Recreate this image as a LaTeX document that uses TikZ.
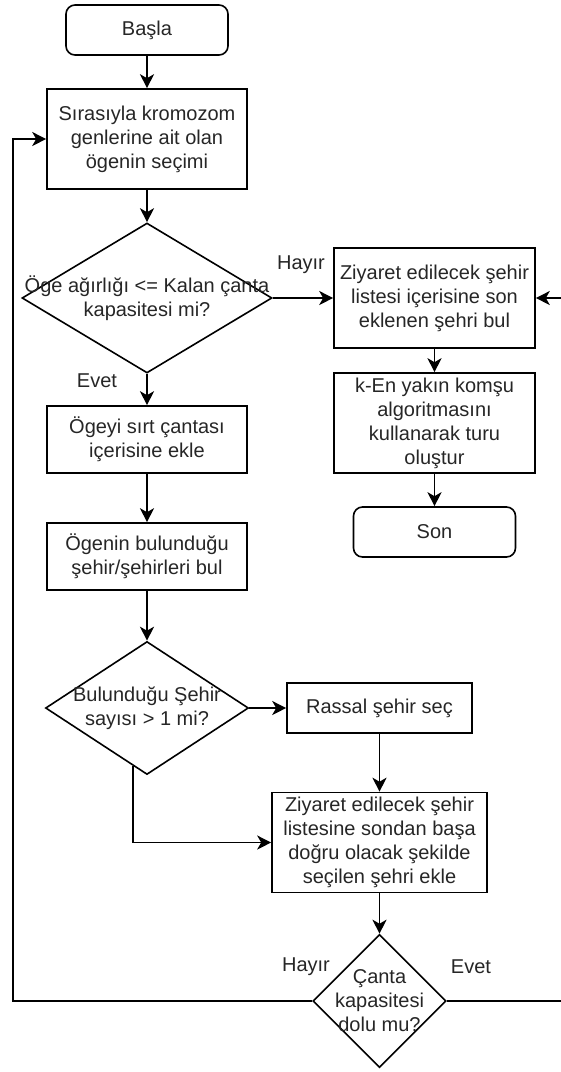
\documentclass[tikz,border=0pt]{standalone}
\usepackage{fontspec}
\setmainfont{Liberation Sans}
\usetikzlibrary{shapes.geometric,arrows.meta,calc}
\newcommand\fsz{\fontsize{20}{24}\selectfont}
\begin{document}
\begin{tikzpicture}[x=1pt,y=-1pt,
  base/.style={draw=black, line width=1.6pt, font=\fsz, align=center, inner sep=0pt, text=black!85},
  proc/.style={base, rectangle},
  term/.style={base, rectangle, rounded corners=9pt},
  dia/.style={base, diamond},
  dtext/.style={font=\fsz, align=center, inner sep=0pt, text=black!85},
  lbl/.style={font=\fsz, inner sep=0pt, text=black!85},
  conn/.style={line width=1.6pt, draw=black, -{Stealth[length=14pt,width=14pt,inset=4pt]}},
  plain/.style={line width=1.6pt, draw=black}
]
\useasboundingbox (0,0) rectangle (561,1072);

\node[term, minimum width=162pt, minimum height=50pt] (basla) at (147,30) {Başla};
\node[proc, minimum width=200pt, minimum height=100pt] (box1) at (147,139) {Sırasıyla kromozom\\genlerine ait olan\\ögenin seçimi};
\node[dia, minimum width=250pt, minimum height=150pt,
  label={[dtext]center:Öge ağırlığı <= Kalan çanta\\kapasitesi mi?}] (d1) at (147,298) {};
\node[proc, minimum width=200pt, minimum height=67pt] (box4) at (147,439.5) {Ögeyi sırt çantası\\içerisine ekle};
\node[proc, minimum width=200pt, minimum height=67pt] (box5) at (147,556.5) {Ögenin bulunduğu\\şehir/şehirleri bul};
\node[dia, minimum width=203pt, minimum height=133pt,
  label={[dtext]center:Bulunduğu Şehir\\sayısı > 1 mi?}] (d2) at (147,708) {};
\node[proc, minimum width=185pt, minimum height=50pt] (rassal) at (379.5,708) {Rassal şehir seç};
\node[proc, minimum width=215pt, minimum height=100pt] (box6) at (379.5,842.5) {Ziyaret edilecek şehir\\listesine sondan başa\\doğru olacak şekilde\\seçilen şehri ekle};
\node[dia, minimum width=133pt, minimum height=133pt,
  label={[dtext]center:Çanta\\kapasitesi\\dolu mu?}] (d3) at (379.5,1001) {};
\node[proc, minimum width=201pt, minimum height=100pt] (box2) at (434.5,298) {Ziyaret edilecek şehir\\listesi içerisine son\\eklenen şehri bul};
\node[proc, minimum width=201pt, minimum height=100pt] (box3) at (434.5,423) {k-En yakın komşu\\algoritmasını\\kullanarak turu\\oluştur};
\node[term, minimum width=162pt, minimum height=50pt] (son) at (434.5,532) {Son};

\coordinate (d2c) at ($(d2.south)!0.138!(d2.west)$);
\coordinate (lft) at (13,1001);
\coordinate (rgt) at (566,1001);

\draw[conn] (basla.south) -- (box1.north);
\draw[conn] (box1.south) -- (d1.north);
\draw[conn] (d1.east) -- (box2.west);
\draw[conn] (d1.south) -- (box4.north);
\draw[conn] (box4.south) -- (box5.north);
\draw[conn] (box5.south) -- (d2.north);
\draw[conn] (d2.east) -- (rassal.west);
\draw[conn] (rassal.south) -- (box6.north);
\draw[conn] (d2c) |- (box6.west);
\draw[conn] (box6.south) -- (d3.north);
\draw[conn] (d3.west) -- (lft) |- (box1.west);
\draw[conn] (d3.east) -- (rgt) |- (box2.east);
\draw[conn] (box2.south) -- (box3.north);
\draw[conn] (box3.south) -- (son.north);

\node[lbl] (l1) at (301,265) {Hayır};
\node[lbl] (l2) at (97,381) {Evet};
\node[lbl] (l3) at (306,967) {Hayır};
\node[lbl] (l4) at (471,967) {Evet};
\end{tikzpicture}
\end{document}
